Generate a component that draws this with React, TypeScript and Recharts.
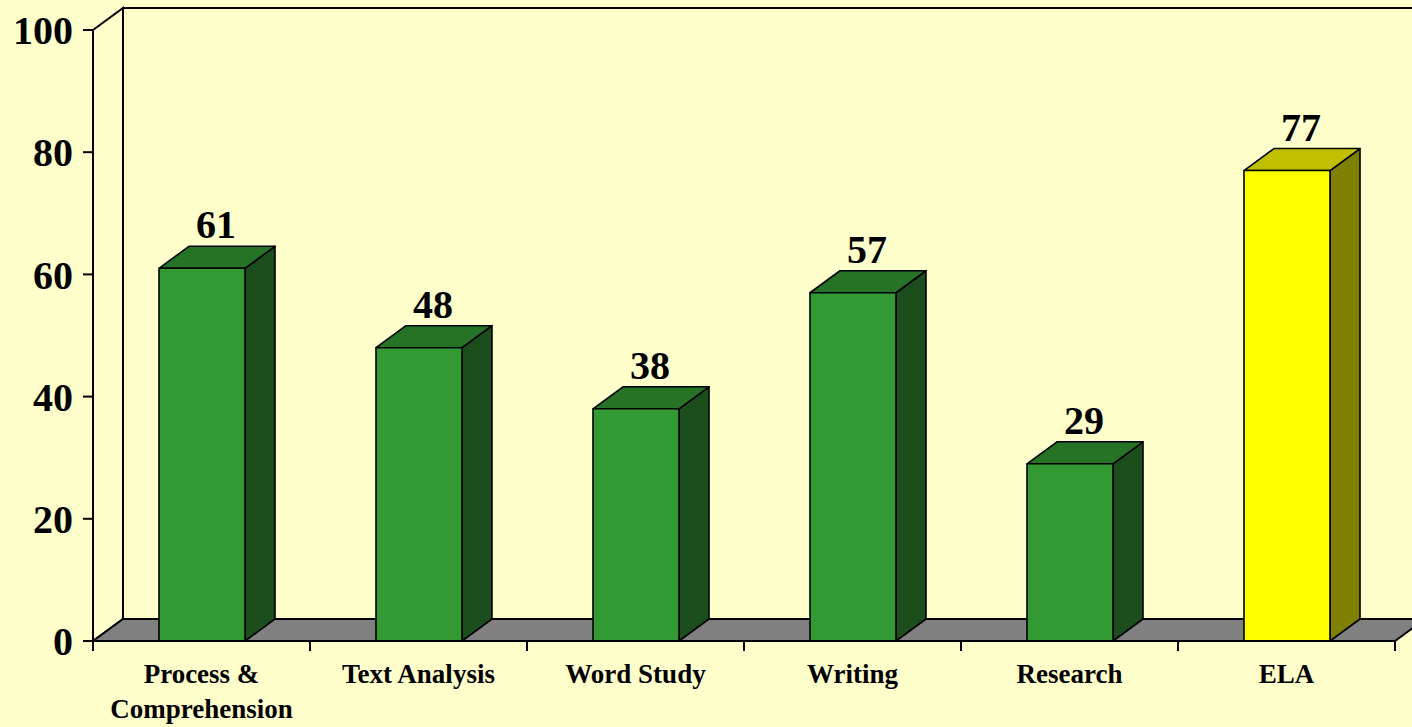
import React from 'react';
import { BarChart, Bar, XAxis, YAxis, ReferenceArea, LabelList } from 'recharts';

const categories = ['Process &\nComprehension', 'Text Analysis', 'Word Study', 'Writing', 'Research', 'ELA'];
const scores = [61, 48, 38, 57, 29, 77];
const yTicks = [0, 20, 40, 60, 80, 100];
const highlight = 'ELA';

const data = categories.map((name, i) => ({ name, score: scores[i] }));

const BG = '#FFFFCC';
const FONT = "'Times New Roman', 'Liberation Serif', serif";
const DX = 30; // depth offset
const DY = 22;

// back wall, side wall and floor drawn around the plot area
const Walls = (props: any) => {
  const { x, y, width, height } = props;
  const b = y + height;
  const r = x + width;
  return (
    <g>
      <rect x={x + DX} y={y - DY} width={width} height={height} fill={BG} stroke="#000" strokeWidth={2} />
      <polygon points={`${x},${y} ${x + DX},${y - DY} ${x + DX},${b - DY} ${x},${b}`} fill={BG} stroke="#000" strokeWidth={2} />
      <polygon points={`${x},${b} ${x + DX},${b - DY} ${r + DX},${b - DY} ${r},${b}`} fill="#808080" stroke="#000" strokeWidth={2} />
    </g>
  );
};

const Bar3D = (props: any) => {
  const { x, y, width: w, height: h, payload } = props;
  const hi = payload && payload.name === highlight;
  const front = hi ? '#FFFF00' : '#339933';
  const top = hi ? '#C0C000' : '#267326';
  const side = hi ? '#808000' : '#1C4D1C';
  return (
    <g stroke="#000" strokeWidth={1.6} strokeLinejoin="round">
      <polygon points={`${x + w},${y} ${x + w + DX},${y - DY} ${x + w + DX},${y + h - DY} ${x + w},${y + h}`} fill={side} />
      <polygon points={`${x},${y} ${x + DX},${y - DY} ${x + w + DX},${y - DY} ${x + w},${y}`} fill={top} />
      <rect x={x} y={y} width={w} height={h} fill={front} />
    </g>
  );
};

const ValueLabel = (props: any) => {
  const { x, y, width, value } = props;
  return (
    <text x={x + width / 2 + 14} y={y - 30} textAnchor="middle" fontFamily={FONT} fontWeight="bold" fontSize={40} fill="#000">
      {value}
    </text>
  );
};

const CategoryTick = (props: any) => {
  const { x, y, payload, index, width, visibleTicksCount } = props;
  const half = payload && payload.offset ? payload.offset : width / visibleTicksCount / 2;
  const lines = String(payload.value).split('\n');
  const isLast = index === categories.length - 1;
  return (
    <g>
      <line x1={x - half} y1={y} x2={x - half} y2={y + 10} stroke="#000" strokeWidth={2} />
      {isLast && <line x1={x + half} y1={y} x2={x + half} y2={y + 10} stroke="#000" strokeWidth={2} />}
      <text textAnchor="middle" fontFamily={FONT} fontWeight="bold" fontSize={27} fill="#000">
        {lines.map((l, i) => (
          <tspan key={i} x={x} y={y + 42 + i * 35}>{l}</tspan>
        ))}
      </text>
    </g>
  );
};

export default function App() {
  return (
    <div style={{ position: 'absolute', left: 0, top: 0, width: 1412, height: 727, background: BG }}>
      <BarChart width={1412} height={727} data={data} margin={{ top: 30, right: 17, bottom: 0, left: 0 }} barSize={86}>
        <ReferenceArea y1={0} y2={100} shape={Walls} zIndex={-50} ifOverflow="visible" />
        <XAxis
          dataKey="name"
          height={86}
          axisLine={{ stroke: '#000', strokeWidth: 2 }}
          tickLine={false}
          tickSize={0}
          tickMargin={0}
          interval={0}
          tick={<CategoryTick />}
        />
        <YAxis
          width={93}
          domain={[0, 100]}
          ticks={yTicks}
          axisLine={{ stroke: '#000', strokeWidth: 2 }}
          tickLine={{ stroke: '#000', strokeWidth: 2 }}
          tickSize={10}
          tickMargin={10}
          tick={{ fill: '#000', fontSize: 40, fontWeight: 'bold', fontFamily: FONT }}
        />
        <Bar dataKey="score" shape={<Bar3D />} isAnimationActive={false}>
          <LabelList dataKey="score" content={<ValueLabel />} />
        </Bar>
      </BarChart>
    </div>
  );
}
